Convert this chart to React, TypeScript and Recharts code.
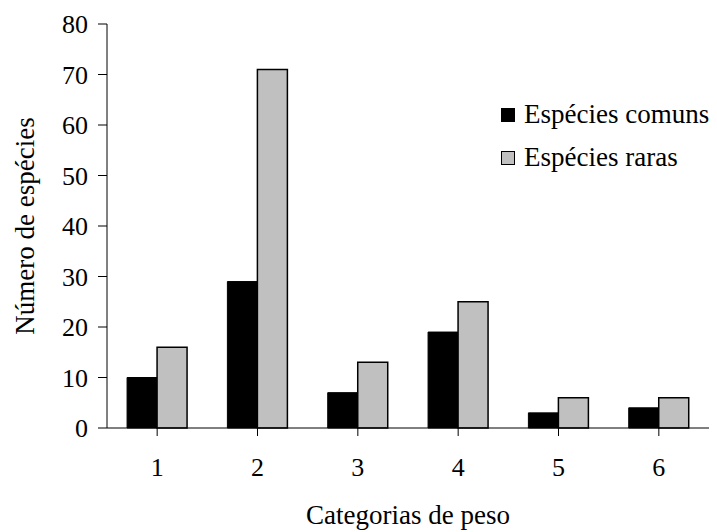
import { BarChart, Bar, XAxis, YAxis, Legend } from 'recharts';

const categories = ['1', '2', '3', '4', '5', '6'];
const comuns = [10, 29, 7, 19, 3, 4];
const raras = [16, 71, 13, 25, 6, 6];
const yTicks = [0, 10, 20, 30, 40, 50, 60, 70, 80];

const data = categories.map((c, i) => ({ cat: c, comuns: comuns[i], raras: raras[i] }));

const FONT = '"Liberation Serif", "Times New Roman", serif';

// legend drawn as two stacked rows, square + label
const LegendBox = ({ payload }: any) => (
  <div style={{ fontFamily: FONT, fontSize: 27, color: '#000', lineHeight: 1 }}>
    {(payload || []).map((p: any) => (
      <div key={p.value} style={{ display: 'flex', alignItems: 'center', height: 43 }}>
        <span
          style={{
            width: 12, height: 12, background: p.color, border: '1.5px solid #000',
            marginRight: 9, display: 'inline-block', flex: 'none',
          }}
        />
        <span style={{ whiteSpace: 'nowrap' }}>{p.value}</span>
      </div>
    ))}
  </div>
);

const YLabel = ({ viewBox }: any) => {
  const cx = 25;
  const cy = viewBox.y + viewBox.height / 2;
  return (
    <text x={cx} y={cy} transform={`rotate(-90, ${cx}, ${cy})`} textAnchor="middle"
      dominantBaseline="central" fontFamily={FONT} fontSize={27} fill="#000">
      Número de espécies
    </text>
  );
};

export default function App() {
  return (
    <div style={{ position: 'absolute', left: 0, top: 0, background: '#fff' }}>
      <BarChart
        width={717}
        height={532}
        data={data}
        margin={{ top: 24, right: 8, bottom: 0, left: 27 }}
        barCategoryGap="20%"
        barGap={0}
      >
        <XAxis
          dataKey="cat"
          height={104}
          tickSize={8}
          tickMargin={22}
          stroke="#000"
          tick={{ fill: '#000', fontFamily: FONT, fontSize: 26 }}
          label={{ value: 'Categorias de peso', position: 'insideBottom', offset: 8, fill: '#000', fontFamily: FONT, fontSize: 27 }}
        />
        <YAxis
          width={80}
          domain={[0, 80]}
          ticks={yTicks}
          interval={0}
          tickSize={9}
          tickMargin={10}
          stroke="#000"
          tick={{ fill: '#000', fontFamily: FONT, fontSize: 26 }}
          label={<YLabel />}
        />
        <Legend
          layout="horizontal"
          verticalAlign="middle"
          align="center"
          content={<LegendBox />}
          wrapperStyle={{ top: 93, left: 501, width: 216 }}
        />
        <Bar dataKey="comuns" name="Espécies comuns" fill="#000" stroke="#000" strokeWidth={1} isAnimationActive={false} />
        <Bar dataKey="raras" name="Espécies raras" fill="#C0C0C0" stroke="#000" strokeWidth={1.5} isAnimationActive={false} />
      </BarChart>
    </div>
  );
}
